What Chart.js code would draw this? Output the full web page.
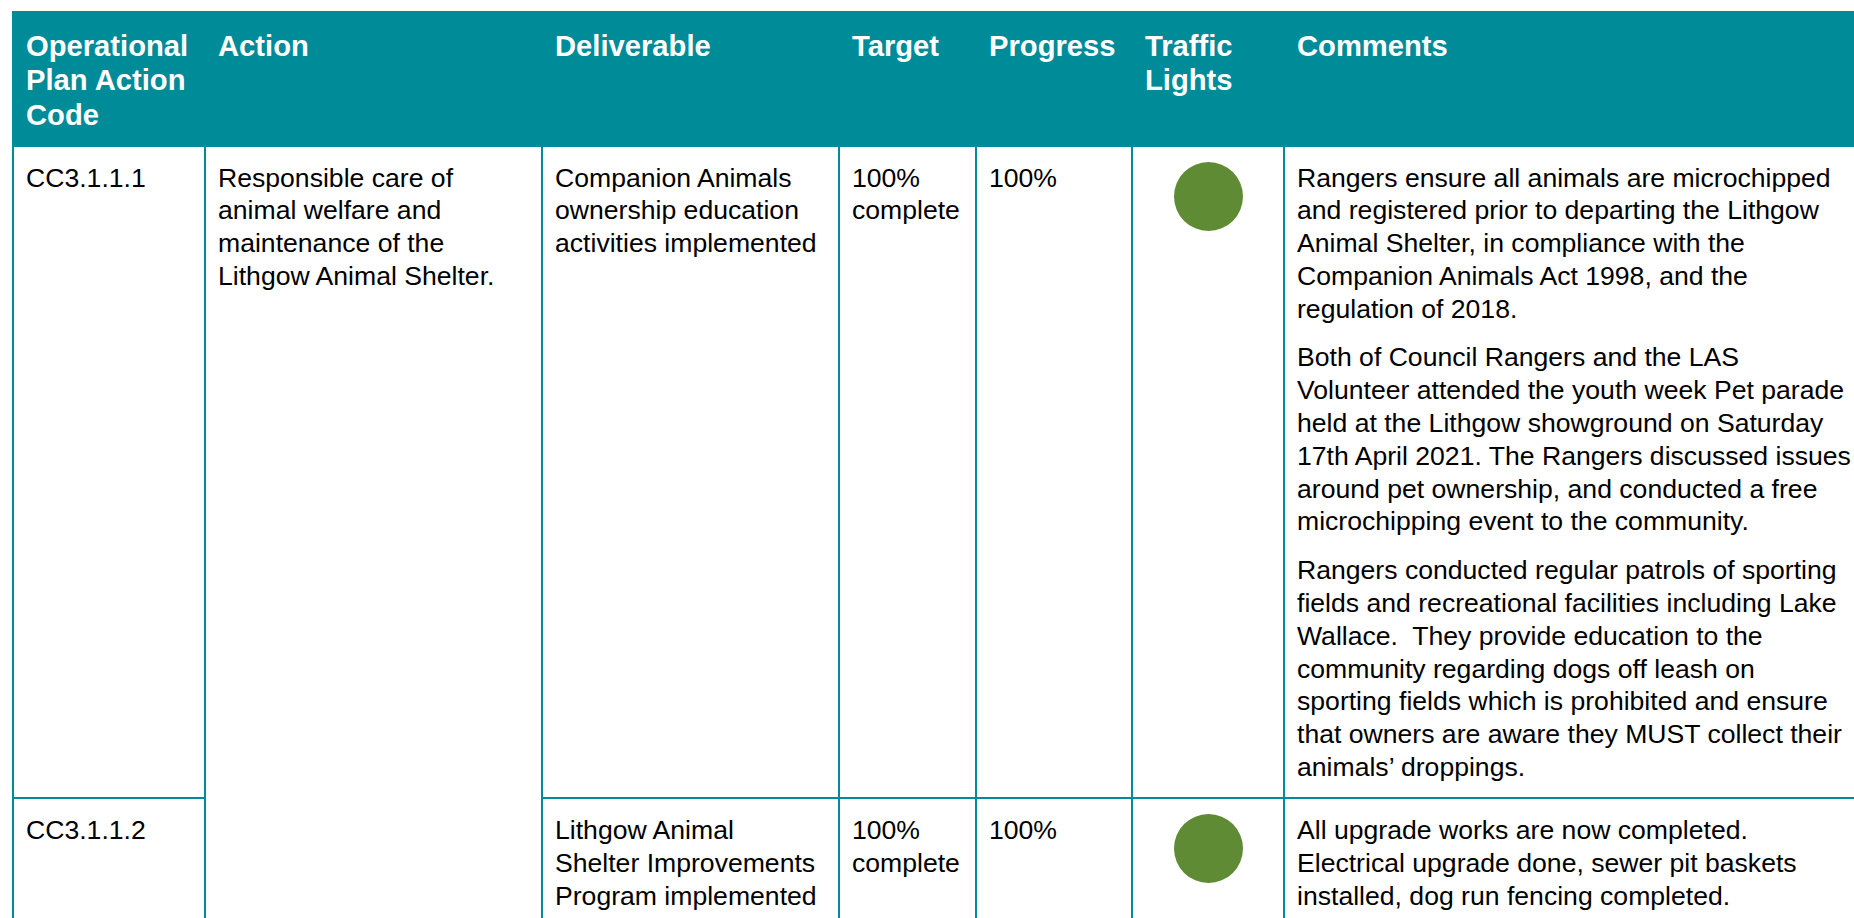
<!DOCTYPE html>
<html>
<head>
<meta charset="utf-8">
<script src="https://cdn.jsdelivr.net/npm/chart.js@4"></script>
<style>
  html, body { margin: 0; padding: 0; background: #fff; width: 1854px; height: 918px; overflow: hidden; }
  table {
    position: absolute; left: 12px; top: 11px;
    border-collapse: collapse; table-layout: fixed; width: 1891px;
    font-family: "Liberation Sans", Arial, sans-serif;
  }
  th, td {
    border: 2px solid #008b99; vertical-align: top; text-align: left;
    white-space: pre; overflow: hidden;
  }
  th { background: #008b99; color: #fff; font-weight: bold; font-size: 29.2px; line-height: 34.5px; padding: 15.6px 4px 0 12px; }
  td { color: #000; font-size: 26.6px; line-height: 32.8px; padding: 14.5px 4px 0 12px; }
  tr.r2 td { padding-top: 15px; }
  td.light, tr.r2 td.light { padding: 15px 0 0 0; }
  td.light canvas { display: block !important; margin: 0 auto; }
  .para { margin-bottom: 16px; }
  .para:last-child { margin-bottom: 0; }
</style>
</head>
<body>
<table id="tbl">
  <colgroup>
    <col style="width:192px"><col style="width:337px"><col style="width:297px">
    <col style="width:137px"><col style="width:156px"><col style="width:152px"><col style="width:620px">
  </colgroup>
  <tbody id="body"></tbody>
</table>
<script>
const headers = ["Operational\nPlan Action\nCode", "Action", "Deliverable", "Target", "Progress", "Traffic\nLights", "Comments"];
const codes = ["CC3.1.1.1", "CC3.1.1.2"];
const actions = ["Responsible care of\nanimal welfare and\nmaintenance of the\nLithgow Animal Shelter."];
const deliverables = [
  "Companion Animals\nownership education\nactivities implemented",
  "Lithgow Animal\nShelter Improvements\nProgram implemented"
];
const targets = ["100%\ncomplete", "100%\ncomplete"];
const progress = [100, 100];
const lights = ["#5f8b34", "#5f8b34"];
const comments = [
  [
    "Rangers ensure all animals are microchipped\nand registered prior to departing the Lithgow\nAnimal Shelter, in compliance with the\nCompanion Animals Act 1998, and the\nregulation of 2018.",
    "Both of Council Rangers and the LAS\nVolunteer attended the youth week Pet parade\nheld at the Lithgow showground on Saturday\n17th April 2021. The Rangers discussed issues\naround pet ownership, and conducted a free\nmicrochipping event to the community.",
    "Rangers conducted regular patrols of sporting\nfields and recreational facilities including Lake\nWallace.  They provide education to the\ncommunity regarding dogs off leash on\nsporting fields which is prohibited and ensure\nthat owners are aware they MUST collect their\nanimals\u2019 droppings."
  ],
  [
    "All upgrade works are now completed.\nElectrical upgrade done, sewer pit baskets\ninstalled, dog run fencing completed."
  ]
];
const rowHeights = [134, 652, 140];

const tbody = document.getElementById("body");

// header row
const hr = document.createElement("tr");
hr.style.height = rowHeights[0] + "px";
headers.forEach((h) => {
  const th = document.createElement("th");
  th.textContent = h;
  hr.appendChild(th);
});
tbody.appendChild(hr);

const lightCanvases = [];

codes.forEach((code, i) => {
  const tr = document.createElement("tr");
  tr.className = "r" + (i + 1);
  tr.style.height = rowHeights[i + 1] + "px";

  const addCell = (text, cls) => {
    const td = document.createElement("td");
    if (cls) td.className = cls;
    if (text !== undefined) td.textContent = text;
    tr.appendChild(td);
    return td;
  };

  addCell(code);
  if (i === 0) {
    const a = addCell(actions[0]);
    a.rowSpan = codes.length;
  }
  addCell(deliverables[i]);
  addCell(targets[i]);
  addCell(progress[i] + "%");

  const lightTd = addCell(undefined, "light");
  const cv = document.createElement("canvas");
  cv.width = 69;
  cv.height = 69;
  lightTd.appendChild(cv);
  lightCanvases.push(cv);

  const cm = addCell(undefined);
  comments[i].forEach((p) => {
    const d = document.createElement("div");
    d.className = "para";
    d.textContent = p;
    cm.appendChild(d);
  });

  tbody.appendChild(tr);
});

// traffic lights drawn as full pies from the progress values
lightCanvases.forEach((cv, i) => {
  new Chart(cv, {
    type: "pie",
    data: {
      labels: ["Progress"],
      datasets: [
        {
          data: [progress[i]],
          backgroundColor: [lights[i]],
          borderWidth: 0,
        },
      ],
    },
    options: {
      responsive: false,
      animation: false,
      events: [],
      layout: { padding: 0 },
      plugins: {
        legend: { display: false },
        tooltip: { enabled: false },
      },
    },
  });
});
</script>
</body>
</html>
